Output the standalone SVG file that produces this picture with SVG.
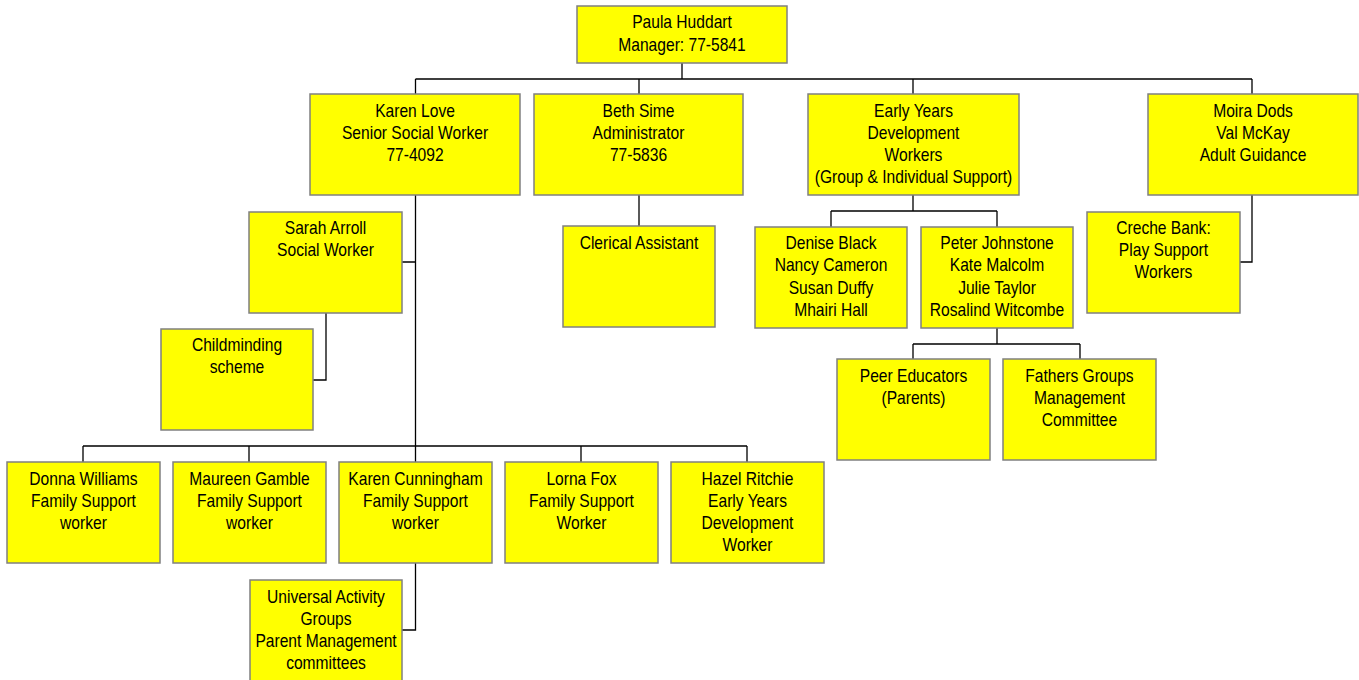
<svg xmlns="http://www.w3.org/2000/svg" width="1359" height="680" viewBox="0 0 1359 680">
<style>
.b{fill:#ffff00;stroke:#808080;stroke-width:1.5}
.t{font-family:"Liberation Sans",Arial,sans-serif;font-size:18px;text-anchor:middle;fill:#000}
.c{fill:none;stroke:#000;stroke-width:1.3}
</style>
<rect width="1359" height="680" fill="#fff"/>
<g id="connectors" class="c">
<path d="M682 63V79M415.5 79H1252M415.5 79V94M639 79V94M913 79V94M1252 79V94"/>
<path d="M415.5 195V462M402 262H415.5M326 313V380H313"/>
<path d="M83 446H747M83 446V462M249 446V462M581 446V462M747 446V462"/>
<path d="M415.5 563V630H402"/>
<path d="M639 195V226"/>
<path d="M913 195V211M831 211H997M831 211V227M997 211V227"/>
<path d="M997 328V344M913 344H1080M913 344V359M1080 344V359"/>
<path d="M1252 195V262H1240"/>
</g>
<g id="root"><rect class="b" x="577" y="6" width="210" height="57"/>
<text class="t" transform="translate(682 0) scale(0.867 1)"><tspan x="0" y="28">Paula Huddart</tspan><tspan x="0" y="51">Manager: 77-5841</tspan></text></g>
<g id="karen-love"><rect class="b" x="310" y="94" width="210" height="101"/>
<text class="t" transform="translate(415 0) scale(0.867 1)"><tspan x="0" y="117">Karen Love</tspan><tspan x="0" y="139">Senior Social Worker</tspan><tspan x="0" y="161">77-4092</tspan></text></g>
<g id="beth-sime"><rect class="b" x="534" y="94" width="209" height="101"/>
<text class="t" transform="translate(638.5 0) scale(0.867 1)"><tspan x="0" y="117">Beth Sime</tspan><tspan x="0" y="139">Administrator</tspan><tspan x="0" y="161">77-5836</tspan></text></g>
<g id="early-years"><rect class="b" x="808" y="94" width="211" height="101"/>
<text class="t" transform="translate(913.5 0) scale(0.867 1)"><tspan x="0" y="117">Early Years</tspan><tspan x="0" y="139">Development</tspan><tspan x="0" y="161">Workers</tspan><tspan x="0" y="183">(Group &amp; Individual Support)</tspan></text></g>
<g id="moira-dods"><rect class="b" x="1148" y="94" width="210" height="101"/>
<text class="t" transform="translate(1253 0) scale(0.867 1)"><tspan x="0" y="117">Moira Dods</tspan><tspan x="0" y="139">Val McKay</tspan><tspan x="0" y="161">Adult Guidance</tspan></text></g>
<g id="sarah-arroll"><rect class="b" x="249" y="212" width="153" height="101"/>
<text class="t" transform="translate(325.5 0) scale(0.867 1)"><tspan x="0" y="234">Sarah Arroll</tspan><tspan x="0" y="256">Social Worker</tspan></text></g>
<g id="childminding"><rect class="b" x="161" y="329" width="152" height="101"/>
<text class="t" transform="translate(237 0) scale(0.867 1)"><tspan x="0" y="351">Childminding</tspan><tspan x="0" y="373">scheme</tspan></text></g>
<g id="clerical"><rect class="b" x="563" y="226" width="152" height="101"/>
<text class="t" transform="translate(639 0) scale(0.867 1)"><tspan x="0" y="249">Clerical Assistant</tspan></text></g>
<g id="denise-black"><rect class="b" x="755" y="227" width="152" height="101"/>
<text class="t" transform="translate(831 0) scale(0.867 1)"><tspan x="0" y="249">Denise Black</tspan><tspan x="0" y="271.5">Nancy Cameron</tspan><tspan x="0" y="294">Susan Duffy</tspan><tspan x="0" y="316">Mhairi Hall</tspan></text></g>
<g id="peter-johnstone"><rect class="b" x="921" y="227" width="152" height="101"/>
<text class="t" transform="translate(997 0) scale(0.867 1)"><tspan x="0" y="249">Peter Johnstone</tspan><tspan x="0" y="271.5">Kate Malcolm</tspan><tspan x="0" y="294">Julie Taylor</tspan><tspan x="0" y="316">Rosalind Witcombe</tspan></text></g>
<g id="peer-educators"><rect class="b" x="837" y="359" width="153" height="101"/>
<text class="t" transform="translate(913.5 0) scale(0.867 1)"><tspan x="0" y="382">Peer Educators</tspan><tspan x="0" y="404">(Parents)</tspan></text></g>
<g id="fathers-groups"><rect class="b" x="1003" y="359" width="153" height="101"/>
<text class="t" transform="translate(1079.5 0) scale(0.867 1)"><tspan x="0" y="382">Fathers Groups</tspan><tspan x="0" y="404">Management</tspan><tspan x="0" y="426">Committee</tspan></text></g>
<g id="creche-bank"><rect class="b" x="1087" y="212" width="153" height="101"/>
<text class="t" transform="translate(1163.5 0) scale(0.867 1)"><tspan x="0" y="234">Creche Bank:</tspan><tspan x="0" y="256">Play Support</tspan><tspan x="0" y="278">Workers</tspan></text></g>
<g id="donna-williams"><rect class="b" x="7" y="462" width="153" height="101"/>
<text class="t" transform="translate(83.5 0) scale(0.867 1)"><tspan x="0" y="485">Donna Williams</tspan><tspan x="0" y="507">Family Support</tspan><tspan x="0" y="529">worker</tspan></text></g>
<g id="maureen-gamble"><rect class="b" x="173" y="462" width="153" height="101"/>
<text class="t" transform="translate(249.5 0) scale(0.867 1)"><tspan x="0" y="485">Maureen Gamble</tspan><tspan x="0" y="507">Family Support</tspan><tspan x="0" y="529">worker</tspan></text></g>
<g id="karen-cunningham"><rect class="b" x="339" y="462" width="153" height="101"/>
<text class="t" transform="translate(415.5 0) scale(0.867 1)"><tspan x="0" y="485">Karen Cunningham</tspan><tspan x="0" y="507">Family Support</tspan><tspan x="0" y="529">worker</tspan></text></g>
<g id="lorna-fox"><rect class="b" x="505" y="462" width="153" height="101"/>
<text class="t" transform="translate(581.5 0) scale(0.867 1)"><tspan x="0" y="485">Lorna Fox</tspan><tspan x="0" y="507">Family Support</tspan><tspan x="0" y="529">Worker</tspan></text></g>
<g id="hazel-ritchie"><rect class="b" x="671" y="462" width="153" height="101"/>
<text class="t" transform="translate(747.5 0) scale(0.867 1)"><tspan x="0" y="485">Hazel Ritchie</tspan><tspan x="0" y="507">Early Years</tspan><tspan x="0" y="529">Development</tspan><tspan x="0" y="551">Worker</tspan></text></g>
<g id="universal-activity"><rect class="b" x="250" y="580" width="152" height="101"/>
<text class="t" transform="translate(326 0) scale(0.867 1)"><tspan x="0" y="603">Universal Activity</tspan><tspan x="0" y="625">Groups</tspan><tspan x="0" y="647">Parent Management</tspan><tspan x="0" y="669">committees</tspan></text></g>
</svg>
